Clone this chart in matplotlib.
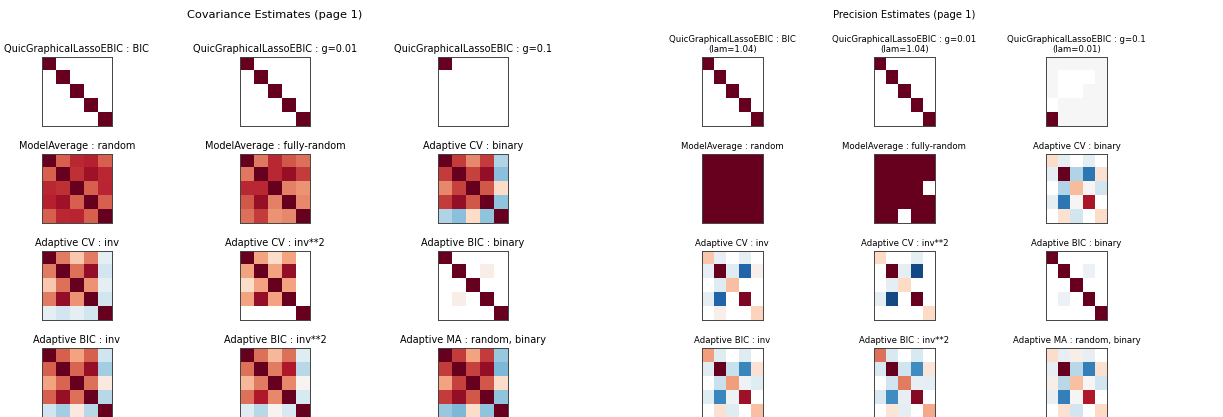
from typing import List

import matplotlib
matplotlib.use('Agg')
import matplotlib.pyplot as plt
import numpy as np

# Covariance estimates, one 5x5 matrix per estimator
cov_names = [
    "QuicGraphicalLassoEBIC : BIC",
    "QuicGraphicalLassoEBIC : g=0.01",
    "QuicGraphicalLassoEBIC : g=0.1",
    "ModelAverage : random",
    "ModelAverage : fully-random",
    "Adaptive CV : binary",
    "Adaptive CV : inv",
    "Adaptive CV : inv**2",
    "Adaptive BIC : binary",
    "Adaptive BIC : inv",
    "Adaptive BIC : inv**2",
    "Adaptive MA : random, binary",
]

cov_quic_bic = [
    [1, 0, 0, 0, 0],
    [0, 1, 0, 0, 0],
    [0, 0, 1, 0, 0],
    [0, 0, 0, 1, 0],
    [0, 0, 0, 0, 1],
]
cov_quic_g001 = [
    [1, 0, 0, 0, 0],
    [0, 1, 0, 0, 0],
    [0, 0, 1, 0, 0],
    [0, 0, 0, 1, 0],
    [0, 0, 0, 0, 1],
]
cov_quic_g01 = [
    [1, 0, 0, 0, 0],
    [0, 0, 0, 0, 0],
    [0, 0, 0, 0, 0],
    [0, 0, 0, 0, 0],
    [0, 0, 0, 0, 0],
]
cov_ma_random = [
    [1.00, 0.60, 0.75, 0.78, 0.60],
    [0.60, 1.00, 0.73, 0.85, 0.75],
    [0.75, 0.73, 1.00, 0.60, 0.76],
    [0.78, 0.85, 0.60, 1.00, 0.60],
    [0.60, 0.75, 0.76, 0.60, 1.00],
]
cov_ma_fully_random = [
    [1.00, 0.53, 0.75, 0.62, 0.55],
    [0.53, 1.00, 0.75, 0.87, 0.70],
    [0.75, 0.75, 1.00, 0.50, 0.45],
    [0.62, 0.87, 0.50, 1.00, 0.48],
    [0.55, 0.70, 0.45, 0.48, 1.00],
]
cov_cv_binary = [
    [1.00, 0.70, 0.48, 0.70, -0.30],
    [0.70, 1.00, 0.68, 0.88, -0.42],
    [0.48, 0.68, 1.00, 0.62, 0.18],
    [0.70, 0.88, 0.62, 1.00, -0.40],
    [-0.30, -0.42, 0.18, -0.40, 1.00],
]
cov_cv_inv = [
    [1.00, 0.52, 0.27, 0.52, -0.10],
    [0.52, 1.00, 0.55, 0.88, -0.18],
    [0.27, 0.55, 1.00, 0.45, -0.10],
    [0.52, 0.88, 0.45, 1.00, -0.18],
    [-0.10, -0.18, -0.10, -0.18, 1.00],
]
cov_cv_inv2 = [
    [1.00, 0.40, 0.18, 0.40, 0],
    [0.40, 1.00, 0.40, 0.88, 0],
    [0.18, 0.40, 1.00, 0.40, 0],
    [0.40, 0.88, 0.40, 1.00, 0],
    [0, 0, 0, 0, 1.00],
]
cov_bic_binary = [
    [1, 0, 0, 0, 0],
    [0, 1, 0, 0.07, 0],
    [0, 0, 1, 0, 0],
    [0, 0.07, 0, 1, 0],
    [0, 0, 0, 0, 1],
]
cov_bic_inv = [
    [1.00, 0.60, 0.40, 0.60, -0.20],
    [0.60, 1.00, 0.58, 0.87, -0.35],
    [0.40, 0.58, 1.00, 0.55, 0.10],
    [0.60, 0.87, 0.55, 1.00, -0.28],
    [-0.20, -0.35, 0.10, -0.28, 1.00],
]
cov_bic_inv2 = [
    [1.00, 0.55, 0.33, 0.55, -0.12],
    [0.55, 1.00, 0.52, 0.80, -0.28],
    [0.33, 0.52, 1.00, 0.48, 0.03],
    [0.55, 0.80, 0.48, 1.00, -0.15],
    [-0.12, -0.28, 0.03, -0.15, 1.00],
]
cov_ma_random_binary = [
    [1.00, 0.70, 0.40, 0.70, -0.38],
    [0.70, 1.00, 0.68, 0.88, -0.45],
    [0.40, 0.68, 1.00, 0.62, 0.18],
    [0.70, 0.88, 0.62, 1.00, -0.40],
    [-0.38, -0.45, 0.18, -0.40, 1.00],
]

# Precision estimates
prec_names = [
    "QuicGraphicalLassoEBIC : BIC\n(lam=1.04)",
    "QuicGraphicalLassoEBIC : g=0.01\n(lam=1.04)",
    "QuicGraphicalLassoEBIC : g=0.1\n(lam=0.01)",
    "ModelAverage : random",
    "ModelAverage : fully-random",
    "Adaptive CV : binary",
    "Adaptive CV : inv",
    "Adaptive CV : inv**2",
    "Adaptive BIC : binary",
    "Adaptive BIC : inv",
    "Adaptive BIC : inv**2",
    "Adaptive MA : random, binary",
]

prec_quic_bic = [
    [1, 0, 0, 0, 0],
    [0, 1, 0, 0, 0],
    [0, 0, 1, 0, 0],
    [0, 0, 0, 1, 0],
    [0, 0, 0, 0, 1],
]
prec_quic_g001 = [
    [1, 0, 0, 0, 0],
    [0, 1, 0, 0, 0],
    [0, 0, 1, 0, 0],
    [0, 0, 0, 1, 0],
    [0, 0, 0, 0, 1],
]
prec_quic_g01 = [
    [0.005, 0.005, 0.005, 0.005, 0.005],
    [0.005, 0, 0, 0, 0.005],
    [0.005, 0, 0, 0.005, 0.005],
    [0, 0.005, 0.005, 0.005, 0.005],
    [1, 0.005, 0.005, 0.005, 0.005],
]
prec_ma_random = [
    [1, 1, 1, 1, 1],
    [1, 1, 1, 1, 1],
    [1, 1, 1, 1, 1],
    [1, 1, 1, 1, 1],
    [1, 1, 1, 1, 1],
]
prec_ma_fully_random = [
    [1, 1, 1, 1, 1],
    [1, 1, 1, 1, 1],
    [1, 1, 1, 1, 0],
    [1, 1, 1, 1, 1],
    [1, 1, 0, 1, 1],
]
prec_cv_binary = [
    [0.18, -0.10, 0, -0.10, 0],
    [-0.10, 1.00, -0.30, -0.72, 0.15],
    [0, -0.30, 0.32, 0.01, -0.18],
    [-0.10, -0.72, 0.01, 0.82, 0],
    [0, 0.15, -0.18, 0, 0.18],
]
prec_cv_inv = [
    [0.28, -0.08, 0, -0.10, 0],
    [-0.08, 1.00, -0.12, -0.80, 0.05],
    [0, -0.12, 0.30, 0, 0],
    [-0.10, -0.80, 0, 0.93, 0],
    [0, 0.05, 0, 0, 0.22],
]
prec_cv_inv2 = [
    [0.20, 0, 0, -0.10, 0],
    [0, 1.00, -0.10, -0.90, 0],
    [0, -0.10, 0.20, 0, 0],
    [-0.10, -0.90, 0, 1.00, 0],
    [0, 0, 0, 0, 0.20],
]
prec_bic_binary = [
    [1, 0, 0, 0, 0],
    [0, 1, 0, -0.06, 0],
    [0, 0, 1, 0, 0],
    [0, -0.06, 0, 1, 0],
    [0, 0, 0, 0, 1],
]
prec_bic_inv = [
    [0.42, -0.12, 0, -0.12, 0],
    [-0.12, 1.00, -0.22, -0.65, 0.15],
    [0, -0.22, 0.42, -0.05, -0.12],
    [-0.12, -0.65, -0.05, 0.85, 0],
    [0, 0.15, -0.12, 0, 0.30],
]
prec_bic_inv2 = [
    [0.55, -0.15, 0, -0.15, 0],
    [-0.15, 1.00, -0.20, -0.62, 0.12],
    [0, -0.20, 0.52, -0.08, -0.10],
    [-0.15, -0.62, -0.08, 0.92, 0],
    [0, 0.12, -0.10, 0, 0.38],
]
prec_ma_random_binary = [
    [0.18, -0.08, 0.06, -0.08, 0],
    [-0.08, 1.00, -0.28, -0.68, 0.15],
    [0.06, -0.28, 0.30, 0.01, -0.18],
    [-0.08, -0.68, 0.01, 0.80, 0],
    [0, 0.15, -0.18, 0, 0.20],
]

covs = [
    cov_quic_bic, cov_quic_g001, cov_quic_g01,
    cov_ma_random, cov_ma_fully_random, cov_cv_binary,
    cov_cv_inv, cov_cv_inv2, cov_bic_binary,
    cov_bic_inv, cov_bic_inv2, cov_ma_random_binary,
]
precs = [
    prec_quic_bic, prec_quic_g001, prec_quic_g01,
    prec_ma_random, prec_ma_fully_random, prec_cv_binary,
    prec_cv_inv, prec_cv_inv2, prec_bic_binary,
    prec_bic_inv, prec_bic_inv2, prec_ma_random_binary,
]


def plot_page(fig, grid, title: str, title_x: float, names: List[str], mats,
              title_size: float, suptitle_size: float, stretch: str = 'normal'):
    for i, (name, mat) in enumerate(zip(names, mats)):
        ax = fig.add_subplot(grid[i // 3, i % 3])
        mat = np.asarray(mat, dtype=float)
        vmax = np.abs(mat).max()
        ax.imshow(np.ma.masked_equal(mat, 0), interpolation='nearest',
                  vmin=-vmax, vmax=vmax, cmap=plt.cm.RdBu_r, aspect='auto')
        ax.set_xticks(())
        ax.set_yticks(())
        for spine in ax.spines.values():
            spine.set_linewidth(0.7)
            spine.set_color('#444444')
        ax.set_title(name, fontsize=title_size, pad=3.5, linespacing=1.2,
                     fontstretch=stretch)
    fig.text(title_x, 0.964, title, ha='center', va='center',
             fontsize=suptitle_size, fontstretch=stretch)


fig = plt.figure(figsize=(12.23, 4.17), dpi=100)

cov_grid = fig.add_gridspec(4, 3, left=0.0343, right=0.4154, top=0.8633,
                            bottom=-0.0012, wspace=1.836, hspace=0.396)
prec_grid = fig.add_gridspec(4, 3, left=0.574, right=0.905, top=0.8633,
                             bottom=-0.0012, wspace=1.843, hspace=0.396)

plot_page(fig, cov_grid, "Covariance Estimates (page 1)", 0.2249, cov_names, covs,
          title_size=7.0, suptitle_size=8.2)
plot_page(fig, prec_grid, "Precision Estimates (page 1)", 0.7396, prec_names, precs,
          title_size=6.8, suptitle_size=8.0, stretch='condensed')

fig.savefig('out.png', dpi=100)
